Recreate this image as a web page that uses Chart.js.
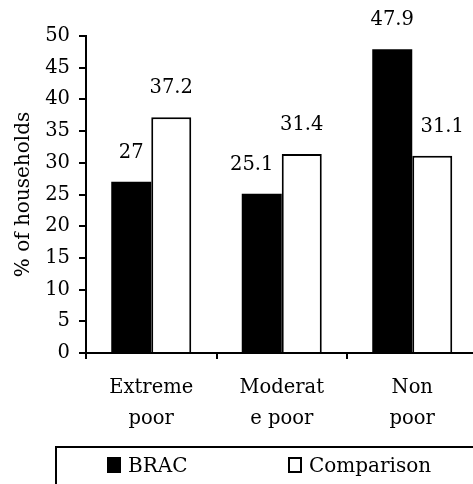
<!DOCTYPE html>
<html>
<head>
<meta charset="utf-8">
<script src="https://cdn.jsdelivr.net/npm/chart.js@4"></script>
<style>
  body { margin: 0; overflow: hidden; background: #fff; }
  #wrap { position: relative; width: 490px; height: 484px; }
  #legend {
    position: absolute; left: 55px; top: 446px; width: 460px; height: 60px;
    border: 2px solid #000; box-sizing: border-box;
    font-family: "DejaVu Serif", serif; font-size: 20px; color: #000;
  }
  .item { position: absolute; top: 7px; height: 20px; line-height: 20px; }
  .box { position: absolute; top: 2px; width: 14px; height: 16px; box-sizing: border-box; border: 2px solid #000; }
  .item span.txt { position: absolute; left: 21px; white-space: nowrap; }
</style>
</head>
<body>
<div id="wrap">
  <canvas id="chart" width="490" height="484"></canvas>
  <div id="legend">
    <div class="item" style="left:50px"><div class="box" style="background:#000"></div><span class="txt">BRAC</span></div>
    <div class="item" style="left:231px"><div class="box" style="background:#fff"></div><span class="txt">Comparison</span></div>
  </div>
</div>
<script>
// categories and values
var categories = [['Extreme', 'poor'], ['Moderat', 'e poor'], ['Non', 'poor']];
var brac = [27, 25.1, 47.9];
var comparison = [37.2, 31.4, 31.1];
var yTicks = [0, 5, 10, 15, 20, 25, 30, 35, 40, 45, 50];

var serif = '"DejaVu Serif", serif';

// value labels above each bar, nudged sideways when they would run into the taller neighbour bar
var valueLabels = {
  id: 'valueLabels',
  afterDatasetsDraw: function(chart) {
    var ctx = chart.ctx;
    ctx.save();
    ctx.fillStyle = '#000';
    ctx.font = '19.5px ' + serif;
    ctx.textAlign = 'center';
    ctx.textBaseline = 'middle';
    chart.data.datasets.forEach(function(ds, i) {
      var other = chart.getDatasetMeta(1 - i).data;
      chart.getDatasetMeta(i).data.forEach(function(bar, j) {
        var text = String(ds.data[j]);
        var w = ctx.measureText(text).width;
        var y = bar.y - 29;
        var x = bar.x;
        if (w > bar.width && other[j].y < y + 10) {
          x += (i === 0 ? -10 : 10);
        }
        ctx.fillText(text, x, y);
      });
    });
    ctx.restore();
  }
};

var chart = new Chart('chart', {
  type: 'bar',
  data: {
    labels: categories,
    datasets: [
      {
        label: 'BRAC',
        data: brac,
        backgroundColor: '#000',
        borderColor: '#000',
        borderWidth: 0
      },
      {
        label: 'Comparison',
        data: comparison,
        backgroundColor: '#fff',
        borderColor: '#000',
        borderWidth: 2
      }
    ]
  },
  options: {
    responsive: false,
    animation: false,
    devicePixelRatio: 1,
    layout: { padding: { top: 36, right: 12.5, left: 0, bottom: 0 } },
    plugins: { legend: { display: false }, tooltip: { enabled: false } },
    datasets: { bar: { barPercentage: 1, categoryPercentage: 0.613 } },
    scales: {
      x: {
        afterFit: function(scale) { scale.height = 131; },
        border: { display: true, color: '#000', width: 2 },
        grid: { offset: true, drawOnChartArea: false, drawTicks: true, tickLength: 6, color: '#000', lineWidth: 2 },
        ticks: {
          color: '#000',
          padding: 13,
          maxRotation: 0,
          autoSkip: false,
          font: { family: serif, size: 19.5, lineHeight: 1.6 }
        }
      },
      y: {
        min: 0,
        max: 50,
        afterFit: function(scale) { scale.width = 86; },
        afterBuildTicks: function(scale) {
          scale.ticks = yTicks.map(function(v) { return { value: v }; });
        },
        border: { display: true, color: '#000', width: 2 },
        grid: { drawOnChartArea: false, drawTicks: true, tickLength: 7, color: '#000', lineWidth: 2 },
        ticks: {
          color: '#000',
          padding: 9,
          font: { family: serif, size: 19.5 }
        },
        title: {
          display: true,
          text: '% of households',
          color: '#000',
          padding: { top: 12, bottom: 0 },
          font: { family: serif, size: 20, lineHeight: 1.2 }
        }
      }
    }
  },
  plugins: [valueLabels]
});
</script>
</body>
</html>
